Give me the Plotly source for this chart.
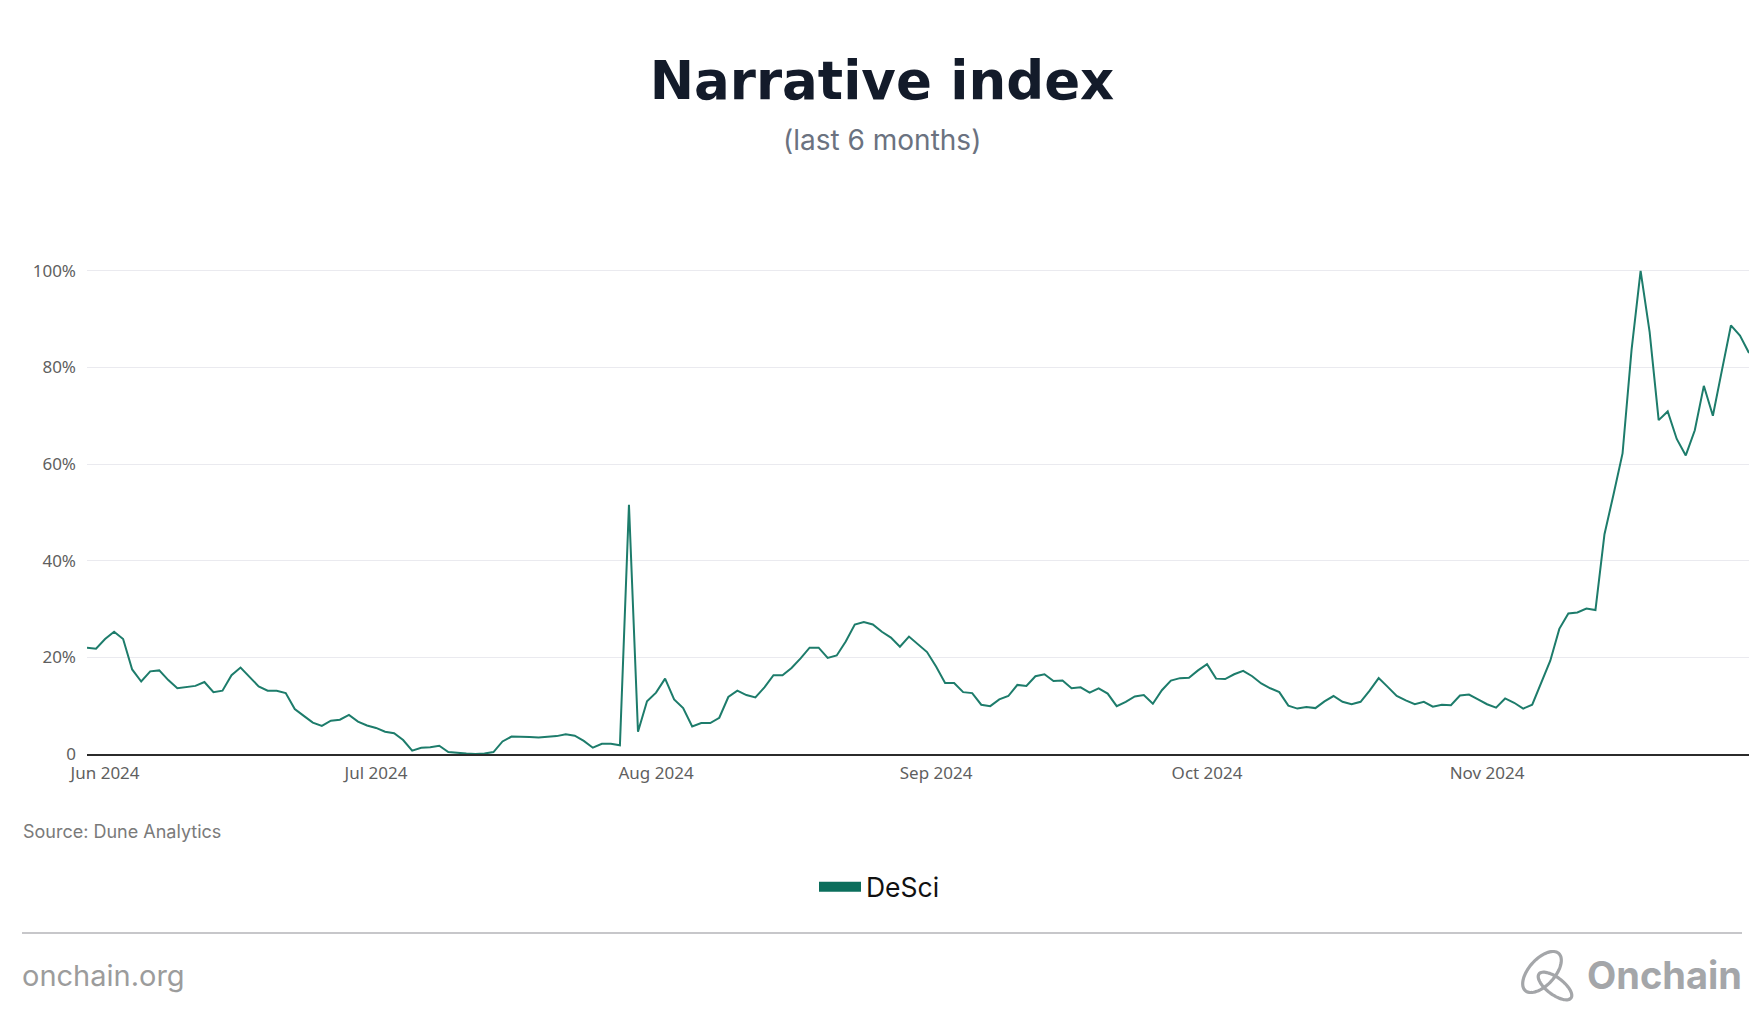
import numpy as np
import pandas as pd
import plotly.graph_objects as go

# ---- data (daily DeSci narrative index, %), 2024-05-30 .. 2024-11-30 ----
start_date = "2024-05-30"
may_vals = [22.0, 21.8]
jun_vals = [23.8, 25.3, 23.8, 17.5, 15.0, 17.1, 17.3, 15.3, 13.6, 13.9,
            14.1, 14.9, 12.8, 13.1, 16.3, 17.9, 15.9, 14.0, 13.1, 13.1,
            12.6, 9.3, 7.9, 6.5, 5.8, 6.9, 7.1, 8.1, 6.7, 5.9]
jul_vals = [5.4, 4.6, 4.3, 2.9, 0.7, 1.3, 1.4, 1.7, 0.4, 0.2,
            0.1, 0.0, 0.1, 0.4, 2.6, 3.6, 3.6, 3.5, 3.4, 3.6,
            3.7, 4.1, 3.8, 2.7, 1.3, 2.1, 2.1, 1.8, 51.6, 4.6, 10.9]
aug_vals = [12.7, 15.6, 11.3, 9.5, 5.7, 6.4, 6.4, 7.5, 11.8, 13.1,
            12.2, 11.7, 13.8, 16.3, 16.3, 17.8, 19.8, 22.0, 22.0, 19.9,
            20.4, 23.3, 26.8, 27.3, 26.8, 25.3, 24.1, 22.2, 24.3, 22.7, 21.1]
sep_vals = [18.1, 14.7, 14.7, 12.8, 12.6, 10.2, 9.9, 11.3, 12.0, 14.3,
            14.1, 16.1, 16.5, 15.1, 15.2, 13.6, 13.8, 12.7, 13.6, 12.5,
            9.9, 10.8, 11.9, 12.2, 10.4, 13.2, 15.2, 15.7, 15.8, 17.3]
oct_vals = [18.6, 15.6, 15.5, 16.5, 17.2, 16.1, 14.6, 13.6, 12.8, 10.0,
            9.4, 9.7, 9.5, 10.9, 12.0, 10.8, 10.3, 10.8, 13.1, 15.7,
            13.9, 12.0, 11.1, 10.3, 10.8, 9.8, 10.2, 10.1, 12.1, 12.3, 11.3]
nov_vals = [10.3, 9.6, 11.5, 10.6, 9.4, 10.2, 14.8, 19.3, 25.9, 29.1,
            29.3, 30.1, 29.8, 45.5, 53.7, 62.2, 83.7, 100.0, 87.3, 69.1,
            70.9, 65.2, 61.8, 67.0, 76.2, 70.0, 79.4, 88.7, 86.6, 83.0]

series_name = "DeSci"
y_tick_vals = [0, 20, 40, 60, 80, 100]
y_tick_text = ["0", "20%", "40%", "60%", "80%", "100%"]

values = may_vals + jun_vals + jul_vals + aug_vals + sep_vals + oct_vals + nov_vals
dates = pd.date_range(start_date, periods=len(values), freq="D")

# ---- layout geometry (pixels) ----
W, H = 1764, 1021
L, R, T, B = 87, 15, 266, 267
PW, PH = W - L - R, H - T - B


def px(x):
    return (x - L) / PW


def py(y):
    return (H - B - y) / PH


LINE_COLOR = "#1d7c6b"
LEGEND_COLOR = "#0b6e5c"

fig = go.Figure()
fig.add_trace(go.Scatter(
    x=dates, y=values, mode="lines", name=series_name,
    line=dict(color=LINE_COLOR, width=2), showlegend=False,
    hovertemplate="%{x|%b %d, %Y}: %{y:.1f}%<extra></extra>",
))
fig.add_trace(go.Scatter(
    x=[None], y=[None], mode="lines", name=series_name,
    line=dict(color=LEGEND_COLOR, width=12), showlegend=True,
))


# logo icon (decorative loops)
def ellipse_path(cx, cy, rx, ry, rot_deg, n=72):
    t = np.linspace(0, 2 * np.pi, n)
    a = np.deg2rad(rot_deg)
    xs = cx + rx * np.cos(t) * np.cos(a) - ry * np.sin(t) * np.sin(a)
    ys = cy + rx * np.cos(t) * np.sin(a) + ry * np.sin(t) * np.cos(a)
    pts = [f"{px(x):.5f},{py(y):.5f}" for x, y in zip(xs, ys)]
    return "M" + " L".join(pts) + " Z"


LOGO_GREY = "#a4a6a9"
shapes = [
    dict(type="line", xref="paper", yref="paper",
         x0=px(22), x1=px(1742), y0=py(933), y1=py(933),
         line=dict(color="#b4b4b8", width=1.5)),
    dict(type="path", xref="paper", yref="paper",
         path=ellipse_path(1542, 972, 13, 25, 42),
         line=dict(color=LOGO_GREY, width=3.2)),
    dict(type="path", xref="paper", yref="paper",
         path=ellipse_path(1555, 986, 20, 8.5, 37),
         line=dict(color=LOGO_GREY, width=3.2)),
]

annotations = [
    dict(text="(last 6 months)", xref="paper", yref="paper",
         x=px(882), y=py(140), xanchor="center", yanchor="middle",
         showarrow=False, font=dict(family="Inter", size=28, color="#6b7280")),
    dict(text="Source: Dune Analytics", xref="paper", yref="paper",
         x=px(21), y=py(831), xanchor="left", yanchor="middle",
         showarrow=False, font=dict(family="Inter", size=18, color="#7a7a7a")),
    dict(text="onchain.org", xref="paper", yref="paper",
         x=px(20), y=py(975), xanchor="left", yanchor="middle",
         showarrow=False, font=dict(family="Inter", size=29, color="#9c9c9c")),
    dict(text="<b>Onchain</b>", xref="paper", yref="paper",
         x=px(1744), y=py(975), xanchor="right", yanchor="middle",
         showarrow=False, font=dict(family="Inter", size=38, color=LOGO_GREY)),
]

fig.update_layout(
    width=W, height=H,
    margin=dict(l=L, r=R, t=T, b=B, pad=0),
    paper_bgcolor="white", plot_bgcolor="white",
    title=dict(text="<b>Narrative index</b>", x=0.5, xanchor="center",
               xref="container", y=1 - 80 / H, yref="container", yanchor="middle",
               font=dict(family="DejaVu Sans", size=53, color="#131b2a")),
    showlegend=True,
    legend=dict(orientation="h", xref="container", yref="container",
                x=814 / W, y=1 - 887 / H, xanchor="left", yanchor="middle",
                font=dict(family="Inter", size=26.5, color="#111111"),
                itemwidth=42, bgcolor="rgba(0,0,0,0)"),
    shapes=shapes,
    annotations=annotations,
    xaxis=dict(
        range=[dates[0], dates[-1]], type="date",
        dtick="M1", tick0="2024-06-01", tickformat="%b %Y",
        showgrid=False, zeroline=False,
        showline=True, linecolor="#2b2b2b", linewidth=1.5,
        ticks="", tickfont=dict(family="Noto Sans", size=17, color="#5f5f5f"),
        ticklabelstandoff=3,
    ),
    yaxis=dict(
        range=[0, 101], tickvals=y_tick_vals, ticktext=y_tick_text,
        showgrid=True, gridcolor="#eaeaef", gridwidth=1,
        zeroline=False, showline=False, ticks="",
        tickfont=dict(family="Noto Sans", size=17, color="#5f5f5f"),
        ticklabelstandoff=10,
    ),
)

fig.write_html(
    "out.html",
    config={"displayModeBar": False},
    post_script="document.body.style.margin='0';document.body.style.overflow='hidden';",
)
